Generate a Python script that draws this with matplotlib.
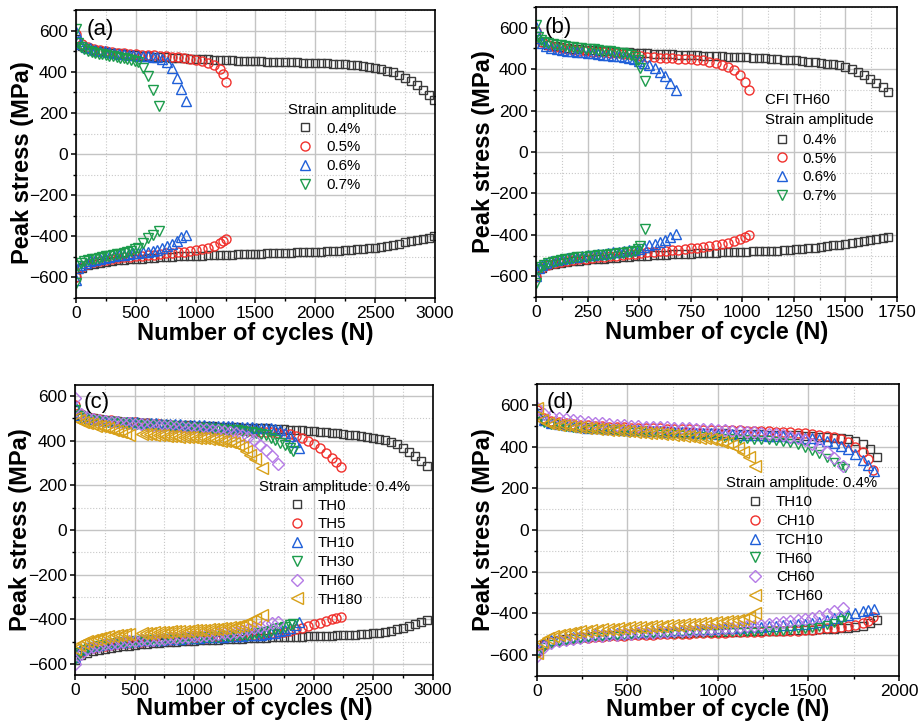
import matplotlib
matplotlib.use("Agg")
import matplotlib.pyplot as plt
from matplotlib.ticker import MultipleLocator

plt.rcParams['font.family'] = ['Liberation Sans', 'DejaVu Sans']

# ---------------- (a) strain amplitudes, as-received ----------------
a04_x = list(range(0, 2951, 50)) + [2990]
a04_up = [560, 525, 515, 508, 503, 498, 494, 490, 487, 484,
          481, 478, 476, 474, 472, 470, 468, 466, 465, 463,
          462, 461, 460, 459, 458, 457, 456, 455, 454, 453,
          452, 451, 450, 449, 448, 447, 446, 446, 445, 444,
          443, 442, 441, 440, 438, 437, 435, 432, 429, 425,
          420, 414, 406, 397, 386, 372, 356, 336, 313, 288,
          262]
a04_lo = [-600, -552, -540, -533, -528, -524, -520, -517, -514, -512,
          -510, -508, -506, -504, -502, -500, -499, -498, -497, -496,
          -495, -494, -493, -492, -491, -490, -489, -488, -487, -486,
          -485, -484, -483, -482, -481, -480, -479, -478, -477, -476,
          -475, -474, -473, -472, -470, -468, -466, -464, -461, -458,
          -455, -451, -446, -441, -436, -430, -424, -418, -412, -406,
          -400]

a05_x = list(range(0, 1201, 50)) + [1230, 1255]
a05_up = [585, 535, 520, 512, 506, 501, 497, 494, 491, 488,
          486, 484, 482, 480, 478, 476, 473, 470, 467, 463,
          459, 453, 445, 433, 413, 390, 350]
a05_lo = [-600, -548, -534, -526, -520, -515, -511, -507, -503, -500,
          -497, -494, -491, -489, -486, -483, -481, -478, -475, -472,
          -467, -462, -455, -445, -434, -424, -413]

a06_x = [0, 20] + list(range(40, 921, 40))
a06_up = [595, 550, 535, 522, 514, 508, 503, 499, 495, 492, 489, 486, 483,
          481, 479, 477, 475, 473, 470, 464, 448, 418, 370, 315, 258]
a06_lo = [-615, -555, -540, -528, -520, -514, -509, -504, -500, -496, -492,
          -489, -486, -483, -480, -477, -474, -471, -466, -459, -448, -436,
          -421, -405, -393]

a07_x = [0, 20] + list(range(40, 521, 30)) + [560, 600, 640, 690]
a07_up = [610, 540, 522, 510, 502, 497, 492, 488, 485, 482, 479, 476, 473,
          469, 466, 462, 458, 452, 448, 420, 378, 312, 235]
a07_lo = [-625, -545, -530, -522, -516, -512, -508, -505, -502, -497, -494,
          -491, -488, -484, -480, -476, -470, -464, -455, -435, -410, -392,
          -376]

# ---------------- (b) CFI TH60 ----------------
b04_x = list(range(0, 1681, 30)) + [1705]
b04_up = [560, 530, 518, 511, 506, 502, 499, 496, 494, 492,
          490, 488, 486, 484, 482, 481, 479, 478, 476, 475,
          474, 472, 471, 470, 469, 468, 467, 466, 465, 464,
          462, 461, 460, 459, 458, 456, 454, 452, 450, 448,
          446, 444, 442, 440, 437, 434, 430, 427, 423, 418,
          412, 401, 388, 372, 354, 333, 313, 292]
b04_lo = [-600, -560, -547, -540, -535, -531, -527, -524, -521, -518,
          -516, -514, -512, -510, -508, -506, -504, -502, -500, -498,
          -497, -495, -494, -492, -491, -490, -489, -488, -487, -486,
          -485, -484, -483, -482, -481, -480, -479, -478, -477, -476,
          -474, -472, -470, -468, -465, -462, -459, -455, -451, -447,
          -442, -437, -432, -428, -423, -418, -414, -409]

b05_x = list(range(0, 991, 30)) + [1015, 1030]
b05_up = [582, 530, 515, 507, 501, 497, 493, 490, 487, 485,
          483, 481, 479, 477, 475, 473, 468, 464, 460, 458,
          456, 454, 452, 451, 449, 447, 446, 443, 437, 429,
          420, 410, 395, 372, 340, 298]
b05_lo = [-605, -560, -545, -537, -531, -526, -522, -518, -515, -512,
          -509, -506, -503, -500, -497, -494, -491, -488, -485, -482,
          -479, -476, -474, -471, -468, -465, -462, -458, -455, -450,
          -444, -438, -431, -421, -411, -402]

b06_x = [0, 15, 30] + list(range(50, 651, 25)) + [680]
b06_up = [605, 550, 525, 512, 504, 498, 494, 490, 487, 484, 481, 478, 476,
          473, 470, 468, 465, 462, 459, 455, 447, 440, 428, 420, 405, 388,
          365, 333, 300]
b06_lo = [-600, -560, -545, -535, -527, -521, -516, -512, -508, -505, -502,
          -499, -496, -493, -490, -487, -484, -481, -478, -475, -471, -466,
          -459, -451, -442, -433, -424, -412, -396]

b07_x = [0, 10, 25, 40] + list(range(60, 461, 20)) + [480, 495, 505, 528]
b07_up = [615, 555, 540, 532, 527, 523, 519, 515, 512, 509, 506, 504, 501,
          499, 497, 495, 493, 490, 488, 486, 483, 480, 477, 473, 468, 458,
          445, 406, 342]
b07_lo = [-630, -570, -555, -545, -537, -531, -526, -522, -518, -515, -512,
          -509, -507, -505, -503, -501, -499, -497, -495, -493, -491, -489,
          -487, -484, -481, -476, -468, -452, -373]

# ---------------- (c) strain amplitude 0.4 %, TH series ----------------
c_th0_x = list(range(0, 2951, 50))
c_th0_up = [540, 515, 505, 500, 496, 493, 490, 488, 486, 484,
            482, 480, 478, 477, 475, 474, 472, 471, 470, 469,
            467, 466, 465, 464, 463, 462, 461, 460, 459, 458,
            457, 456, 455, 453, 452, 451, 450, 448, 446, 444,
            442, 440, 438, 436, 433, 430, 427, 424, 421, 418,
            414, 409, 403, 395, 384, 366, 351, 333, 311, 286]
c_th0_lo = [-585, -560, -550, -543, -537, -532, -528, -524, -521, -518,
            -515, -512, -510, -508, -506, -504, -502, -500, -499, -497,
            -496, -494, -493, -492, -491, -490, -489, -488, -487, -486,
            -485, -484, -483, -482, -481, -480, -479, -478, -478, -477,
            -476, -476, -475, -474, -473, -472, -470, -469, -467, -465,
            -463, -460, -456, -451, -445, -438, -430, -421, -412, -403]

c_th5_x = list(range(0, 2151, 50)) + [2190, 2230]
c_th5_up = [560, 520, 508, 501, 497, 494, 491, 488, 486, 484,
            482, 480, 478, 476, 474, 472, 470, 468, 466, 464,
            462, 460, 458, 456, 454, 452, 450, 448, 446, 444,
            442, 440, 438, 437, 435, 432, 428, 420, 411, 400,
            385, 366, 346, 323, 304, 283]
c_th5_lo = [-575, -545, -535, -528, -522, -518, -514, -511, -508, -505,
            -503, -501, -499, -497, -495, -493, -492, -490, -489, -487,
            -486, -484, -483, -481, -480, -478, -477, -475, -474, -472,
            -470, -468, -466, -463, -460, -456, -451, -445, -438, -430,
            -422, -415, -408, -401, -396, -392]

c_th10_x = list(range(0, 1881, 40))
c_th10_up = [555, 515, 505, 500, 497, 494, 492, 490, 488, 487,
             485, 484, 483, 482, 481, 480, 479, 478, 477, 476,
             475, 474, 473, 472, 471, 470, 470, 469, 468, 467,
             466, 466, 465, 464, 463, 462, 461, 460, 459, 458,
             457, 455, 452, 446, 436, 420, 396, 366]
c_th10_lo = [-570, -540, -530, -524, -519, -515, -512, -509, -506, -504,
             -502, -500, -498, -497, -495, -494, -493, -492, -491, -490,
             -489, -488, -487, -486, -485, -484, -483, -482, -481, -480,
             -479, -478, -477, -476, -475, -474, -473, -472, -471, -469,
             -467, -464, -460, -454, -447, -438, -427, -414]

c_th30_x = list(range(0, 1801, 40)) + [1830]
c_th30_up = [540, 510, 500, 495, 491, 488, 486, 484, 482, 480,
             478, 477, 475, 474, 472, 471, 470, 468, 467, 466,
             464, 463, 462, 460, 459, 458, 457, 455, 454, 453,
             452, 450, 449, 447, 446, 444, 441, 438, 436, 432,
             424, 414, 405, 392, 380, 366, 356]
c_th30_lo = [-580, -550, -538, -530, -524, -519, -515, -512, -509, -506,
             -504, -502, -500, -498, -497, -495, -494, -493, -491, -490,
             -489, -488, -487, -486, -485, -484, -483, -482, -481, -480,
             -478, -477, -476, -474, -473, -471, -469, -467, -464, -461,
             -457, -452, -446, -440, -433, -426, -420]

c_th60_x = list(range(0, 1701, 50))
c_th60_up = [590, 520, 505, 498, 493, 489, 486, 483, 480, 478,
             476, 474, 472, 470, 468, 466, 464, 462, 460, 458,
             456, 454, 452, 450, 447, 444, 440, 434, 426, 418,
             402, 382, 360, 330, 295]
c_th60_lo = [-600, -555, -535, -525, -518, -513, -509, -505, -502, -499,
             -497, -495, -493, -491, -489, -487, -485, -483, -481, -479,
             -477, -475, -472, -470, -467, -464, -460, -456, -451, -446,
             -440, -433, -426, -419, -411]

c_th180_x = list(range(0, 456, 35)) + list(range(560, 1506, 35)) + [1565]
c_th180_up = [500, 493, 486, 480, 474, 468, 465, 461, 455, 449, 444, 439,
              433, 427,
              432, 430, 428, 427, 425, 424, 423, 422, 420, 419,
              418, 417, 416, 414, 413, 411, 409, 406, 403, 399,
              400, 395, 388, 380, 370, 356, 336, 316,
              277]
c_th180_lo = [-535, -515, -505, -498, -492, -487, -483, -480, -477, -474,
              -472, -470, -468, -466,
              -462, -461, -460, -459, -458, -457, -456, -455, -454, -453,
              -452, -451, -450, -449, -448, -447, -446, -445, -443, -441,
              -439, -437, -434, -431, -428, -420, -410, -398,
              -383]

# ---------------- (d) strain amplitude 0.4 %, TH / CH / TCH ----------------
d_th10_x = list(range(0, 1881, 40))
d_th10_up = [560, 525, 515, 508, 503, 499, 496, 493, 490, 488,
             486, 484, 482, 480, 479, 477, 476, 474, 473, 471,
             470, 469, 467, 466, 465, 464, 463, 462, 461, 460,
             459, 458, 457, 456, 455, 454, 453, 452, 450, 448,
             446, 443, 440, 435, 427, 412, 388, 350]
d_th10_lo = [-580, -545, -533, -526, -521, -517, -514, -511, -509, -507,
             -505, -503, -502, -500, -499, -498, -497, -496, -495, -494,
             -493, -492, -491, -490, -489, -489, -488, -487, -487, -486,
             -485, -485, -484, -483, -482, -481, -480, -479, -478, -477,
             -476, -474, -472, -469, -465, -458, -446, -430]

d_ch10_x = list(range(0, 1801, 40)) + [1830, 1858]
d_ch10_up = [575, 535, 524, 517, 512, 508, 505, 502, 500, 498,
             496, 494, 493, 491, 490, 489, 488, 487, 486, 485,
             484, 483, 482, 481, 480, 480, 479, 478, 477, 476,
             475, 474, 473, 472, 471, 469, 467, 464, 461, 457,
             452, 445, 436, 420, 400, 372, 340, 288]
d_ch10_lo = [-585, -550, -538, -531, -526, -522, -519, -516, -514, -512,
             -510, -508, -507, -505, -504, -503, -502, -501, -500, -499,
             -498, -497, -496, -495, -494, -493, -492, -491, -490, -489,
             -488, -487, -486, -485, -484, -483, -482, -481, -480, -477,
             -472, -469, -465, -461, -455, -448, -436, -418]

d_tch10_x = list(range(0, 1801, 40)) + [1830, 1860]
d_tch10_up = [560, 525, 513, 506, 501, 497, 494, 491, 489, 487,
              485, 483, 481, 479, 477, 476, 474, 473, 471, 470,
              468, 467, 465, 464, 463, 461, 460, 459, 457, 456,
              455, 453, 452, 450, 449, 447, 445, 443, 440, 436,
              426, 416, 402, 386, 362, 336, 312, 284]
d_tch10_lo = [-570, -540, -528, -521, -516, -511, -507, -504, -501, -498,
              -496, -494, -492, -490, -488, -486, -485, -483, -482, -480,
              -479, -477, -476, -475, -473, -472, -471, -469, -468, -466,
              -465, -463, -461, -459, -457, -455, -452, -449, -446, -440,
              -430, -422, -414, -407, -397, -388, -382, -377]

d_th60_x = list(range(0, 1681, 40)) + [1700]
d_th60_up = [545, 515, 505, 499, 495, 491, 488, 485, 482, 480,
             477, 475, 472, 470, 468, 466, 464, 462, 460, 458,
             456, 454, 452, 450, 448, 446, 443, 440, 437, 435,
             433, 431, 429, 426, 421, 415, 407, 395, 380, 363,
             345, 325, 305, 296]
d_th60_lo = [-595, -560, -545, -536, -530, -525, -521, -518, -515, -513,
             -511, -509, -507, -505, -504, -502, -501, -500, -499, -498,
             -497, -496, -495, -494, -493, -492, -491, -490, -489, -488,
             -487, -486, -485, -484, -482, -480, -477, -474, -469, -463,
             -455, -445, -430, -418]

d_ch60_x = list(range(0, 1641, 40)) + [1690]
d_ch60_up = [585, 558, 546, 537, 531, 526, 522, 518, 514, 511,
             508, 505, 502, 500, 498, 496, 495, 493, 492, 490,
             489, 487, 486, 484, 482, 480, 477, 475, 473, 471,
             468, 465, 462, 458, 453, 447, 440, 430, 414, 396,
             372, 345, 305]
d_ch60_lo = [-605, -560, -543, -533, -526, -521, -517, -513, -510, -507,
             -504, -502, -500, -498, -496, -494, -492, -490, -488, -486,
             -484, -482, -480, -478, -476, -474, -471, -468, -465, -462,
             -459, -455, -451, -447, -443, -438, -433, -427, -420, -412,
             -402, -390, -372]

d_tch60_x = list(range(0, 1171, 30)) + [1205]
d_tch60_up = [585, 525, 515, 509, 504, 501, 498, 495, 492, 489,
              487, 485, 483, 481, 479, 477, 475, 473, 471, 469,
              467, 465, 463, 461, 459, 456, 454, 452, 449, 446,
              443, 439, 434, 429, 423, 416, 406, 394, 375, 350,
              305]
d_tch60_lo = [-590, -535, -518, -508, -502, -497, -493, -489, -486, -483,
              -481, -479, -477, -475, -473, -471, -469, -467, -466, -464,
              -463, -461, -460, -458, -457, -455, -454, -452, -450, -449,
              -447, -446, -445, -443, -441, -438, -436, -431, -425, -415,
              -400]

# styles
BLACK, RED, BLUE, GREEN = '#3a3a3a', '#f0302c', '#1f5fd8', '#1c9c4c'
PURPLE, ORANGE = '#b57be6', '#d8a018'
MSIZE = {'s': 6, 'o': 6.5, '^': 7, 'v': 7, 'D': 6, '<': 8}

fig = plt.figure(figsize=(9.21, 7.25), dpi=100)

panels = [
    dict(rect=[0.0825, 0.589, 0.3898, 0.397], xlim=3000, ylim=700, xmaj=500,
         xlabel='Number of cycles (N)', tag='(a)', tagpos=(0.067, 0.934),
         ylab_y=0.47, xlab_y=-0.122, ylab_x=-0.148,
         series=[(a04_x, a04_up, a04_lo, 's', BLACK, '0.4%'),
                 (a05_x, a05_up, a05_lo, 'o', RED, '0.5%'),
                 (a06_x, a06_up, a06_lo, '^', BLUE, '0.6%'),
                 (a07_x, a07_up, a07_lo, 'v', GREEN, '0.7%')],
         heads=[('Strain amplitude', 0.5905, 0.653)],
         leg=(0.617, 0.613)),
    dict(rect=[0.582, 0.5903, 0.392, 0.400], xlim=1750, ylim=700, xmaj=250,
         xlabel='Number of cycle (N)', tag='(b)', tagpos=(0.061, 0.931),
         ylab_y=0.5, xlab_y=-0.124, ylab_x=-0.146,
         series=[(b04_x, b04_up, b04_lo, 's', BLACK, '0.4%'),
                 (b05_x, b05_up, b05_lo, 'o', RED, '0.5%'),
                 (b06_x, b06_up, b06_lo, '^', BLUE, '0.6%'),
                 (b07_x, b07_up, b07_lo, 'v', GREEN, '0.7%')],
         heads=[('CFI TH60', 0.634, 0.679), ('Strain amplitude', 0.634, 0.610)],
         leg=(0.660, 0.566)),
    dict(rect=[0.0814, 0.069, 0.3887, 0.400], xlim=3000, ylim=650, xmaj=500,
         xlabel='Number of cycles (N)', tag='(c)', tagpos=(0.061, 0.941),
         ylab_y=0.5, xlab_y=-0.114, ylab_x=-0.152,
         series=[(c_th0_x, c_th0_up, c_th0_lo, 's', BLACK, 'TH0'),
                 (c_th5_x, c_th5_up, c_th5_lo, 'o', RED, 'TH5'),
                 (c_th10_x, c_th10_up, c_th10_lo, '^', BLUE, 'TH10'),
                 (c_th30_x, c_th30_up, c_th30_lo, 'v', GREEN, 'TH30'),
                 (c_th60_x, c_th60_up, c_th60_lo, 'D', PURPLE, 'TH60'),
                 (c_th180_x, c_th180_up, c_th180_lo, '<', ORANGE, 'TH180')],
         heads=[('Strain amplitude: 0.4%', 0.515, 0.649)],
         leg=(0.598, 0.608)),
    dict(rect=[0.583, 0.0676, 0.393, 0.4028], xlim=2000, ylim=700, xmaj=500,
         xlabel='Number of cycle (N)', tag='(d)', tagpos=(0.0635, 0.938),
         ylab_y=0.5, xlab_y=-0.116, ylab_x=-0.148,
         series=[(d_th10_x, d_th10_up, d_th10_lo, 's', BLACK, 'TH10'),
                 (d_ch10_x, d_ch10_up, d_ch10_lo, 'o', RED, 'CH10'),
                 (d_tch10_x, d_tch10_up, d_tch10_lo, '^', BLUE, 'TCH10'),
                 (d_th60_x, d_th60_up, d_th60_lo, 'v', GREEN, 'TH60'),
                 (d_ch60_x, d_ch60_up, d_ch60_lo, 'D', PURPLE, 'CH60'),
                 (d_tch60_x, d_tch60_up, d_tch60_lo, '<', ORANGE, 'TCH60')],
         heads=[('Strain amplitude: 0.4%', 0.521, 0.660)],
         leg=(0.5815, 0.619)),
]

for p in panels:
    ax = fig.add_axes(p['rect'])
    handles = []
    for xs, up, lo, mk, col, lab in p['series']:
        ms = MSIZE[mk]
        if p['tag'] == '(d)' and mk == 'v':
            ms = 5.5   # TH60 markers drawn smaller in panel (d)
        kw = dict(ls='none', marker=mk, ms=ms, mfc='none', mec=col, mew=1.0)
        h, = ax.plot(xs, up, **kw)
        ax.plot(xs, lo, **kw)
        h.set_label(lab)
        handles.append(h)

    ax.set_xlim(0, p['xlim'])
    ax.set_ylim(-p['ylim'], p['ylim'])
    ax.xaxis.set_major_locator(MultipleLocator(p['xmaj']))
    ax.xaxis.set_minor_locator(MultipleLocator(p['xmaj'] / 2))
    ax.yaxis.set_major_locator(MultipleLocator(200))
    ax.yaxis.set_minor_locator(MultipleLocator(100))
    ax.grid(which='major', color='#c4c4c4', lw=1.0, ls='-')
    ax.grid(which='minor', color='#c8c8c8', lw=0.8, ls=':')
    ax.set_axisbelow(True)
    for s in ax.spines.values():
        s.set_linewidth(1.2)
    ax.tick_params(which='major', direction='out', length=3.5, width=1.1,
                   labelsize=12.5, pad=2.5)
    ax.tick_params(which='minor', direction='out', length=2, width=1.0)

    ax.set_xlabel(p['xlabel'], fontsize=17, fontweight='bold')
    ax.set_ylabel('Peak stress (MPa)', fontsize=17, fontweight='bold')
    ax.xaxis.set_label_coords(0.5, p['xlab_y'])
    ax.xaxis.label.set_va('center')
    ax.yaxis.set_label_coords(p['ylab_x'], p['ylab_y'])
    ax.yaxis.label.set_va('center')

    ax.text(p['tagpos'][0], p['tagpos'][1], p['tag'], transform=ax.transAxes,
            fontsize=16, ha='center', va='center')
    for txt, tx, ty in p['heads']:
        ax.text(tx, ty, txt, transform=ax.transAxes, fontsize=10.8,
                ha='left', va='center')
    leg = ax.legend(handles=handles, loc='upper left', bbox_to_anchor=p['leg'],
                    frameon=False, fontsize=10.8, handlelength=1.0,
                    handletextpad=0.9, labelspacing=0.32, borderpad=0,
                    borderaxespad=0, numpoints=1)
    for lh in leg.legend_handles:
        lh.set_markersize(MSIZE[lh.get_marker()])

fig.savefig('out.png', dpi=100)
